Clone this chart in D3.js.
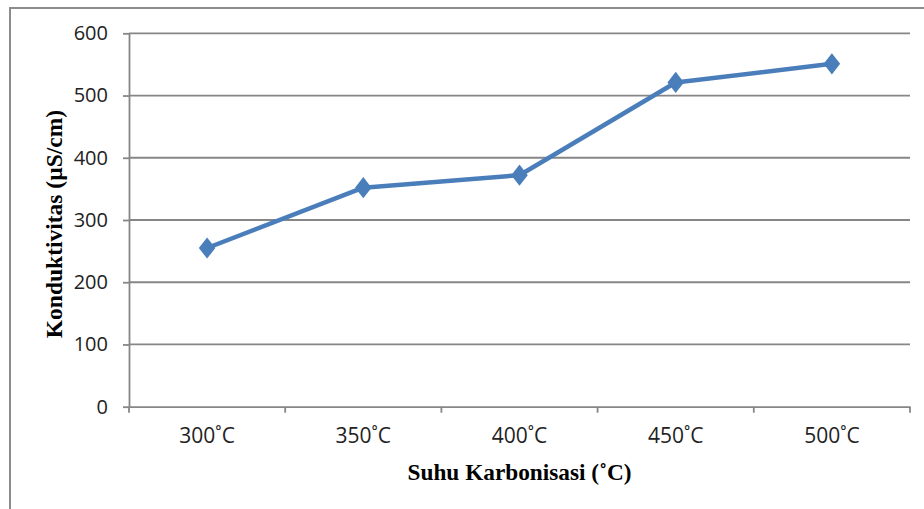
<!DOCTYPE html>
<html><head><meta charset="utf-8">
<script src="https://cdn.jsdelivr.net/npm/d3@7"></script>
<style>html,body{margin:0;padding:0;background:#fff;}svg{display:block;}</style>
</head><body>
<svg id="c" width="924" height="509"></svg>
<script>
const categories = ["300˚C","350˚C","400˚C","450˚C","500˚C"];
const values = [255, 352, 372, 521, 551];
const yTicks = [0,100,200,300,400,500,600];
const xTitle = "Suhu Karbonisasi (˚C)";
const yTitle = "Konduktivitas (µS/cm)";

const svg = d3.select("#c");
const L = 129, R = 910, T = 33.3, B = 406.7;
const gray = "#868686";

svg.append("rect").attr("x",10).attr("y",8).attr("width",940).attr("height",540)
  .attr("fill","#fff").attr("stroke","#8c8c8c").attr("stroke-width",2);

const x = d3.scaleBand().domain(categories).range([L,R]);
const y = d3.scaleLinear().domain([0,600]).range([B,T]);

// gridlines
svg.append("g").selectAll("line").data(yTicks.filter(d=>d>0)).join("line")
  .attr("x1",L).attr("x2",R).attr("y1",d=>y(d)).attr("y2",d=>y(d))
  .attr("stroke",gray).attr("stroke-width",1.8);

// y axis
const ya = svg.append("g").attr("transform",`translate(${L},0)`)
  .call(d3.axisLeft(y).tickValues(yTicks).tickSize(6).tickPadding(15).tickSizeOuter(0));
ya.select(".domain").attr("stroke",gray).attr("stroke-width",1.8);
ya.selectAll(".tick line").attr("stroke",gray).attr("stroke-width",1.8);
ya.selectAll("text").attr("font-family","Open Sans").attr("font-size",20).attr("fill","#222");

// x axis
const xa = svg.append("g").attr("transform",`translate(0,${B})`)
  .call(d3.axisBottom(x).tickSize(0).tickPadding(21));
xa.select(".domain").attr("stroke",gray).attr("stroke-width",1.8);
xa.selectAll("text").attr("font-family","Open Sans").attr("font-size",21).attr("fill","#222");
// category boundary ticks
const bounds = categories.map(c=>x(c)).concat([R]);
svg.append("g").selectAll("line").data(bounds).join("line")
  .attr("x1",d=>d).attr("x2",d=>d).attr("y1",B).attr("y2",B+6)
  .attr("stroke",gray).attr("stroke-width",1.8);

const cx = c => x(c) + x.bandwidth()/2;
const pts = categories.map((c,i)=>({c, v:values[i]}));
svg.append("path").datum(pts)
  .attr("d", d3.line().x(d=>cx(d.c)).y(d=>y(d.v)))
  .attr("fill","none").attr("stroke","#4a7ebb").attr("stroke-width",4.5).attr("stroke-linejoin","round");
svg.append("g").selectAll("path").data(pts).join("path")
  .attr("d", d3.symbol(d3.symbolDiamond, 130))
  .attr("transform", d=>`translate(${cx(d.c)},${y(d.v)}) scale(1.35,1)`)
  .attr("fill","#4a7ebb");

svg.append("text").attr("x",(L+R)/2).attr("y",480).attr("text-anchor","middle")
  .attr("font-family","Liberation Serif").attr("font-weight","bold").attr("font-size",23.3)
  .attr("fill","#000").text(xTitle);
svg.append("text").attr("transform",`translate(62,${(T+B)/2+4}) rotate(-90)`).attr("text-anchor","middle")
  .attr("font-family","Liberation Serif").attr("font-weight","bold").attr("font-size",23.5)
  .attr("fill","#000").text(yTitle);
</script>
</body></html>
